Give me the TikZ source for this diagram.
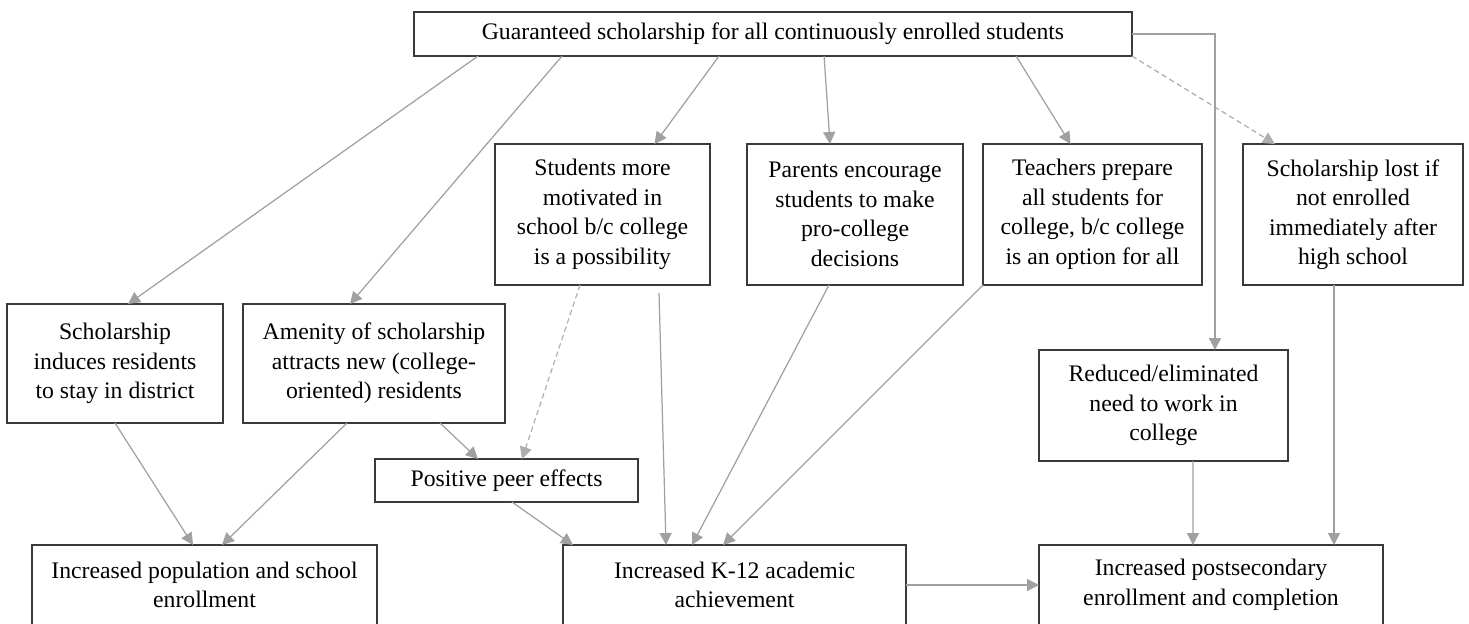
\documentclass[tikz,border=0pt]{standalone}
\usepackage{fontspec}
\setmainfont{Liberation Serif}
\usetikzlibrary{arrows.meta,calc}
\definecolor{boxline}{HTML}{3A3A3A}
\definecolor{linkgray}{HTML}{A0A0A0}

\begin{document}
\begin{tikzpicture}[x=0.02cm, y=-0.02cm, align=center, font=\fontsize{13.5pt}{16.8pt}\selectfont]
    \tikzstyle{every node} = [rectangle, draw=boxline, line width=0.7pt, inner sep=0pt, outer sep=0pt]
    \tikzstyle{link} = [draw=linkgray, line width=0.7pt, -{Triangle[length=0.24cm, width=0.24cm]}]
    \tikzstyle{maybe} = [link, draw=linkgray!85, dash pattern=on 3pt off 2pt]

    \useasboundingbox (0,0) rectangle (1469,623);
    \clip (0,0) rectangle (1469,623);

    \node (a) at (773, 34) [minimum width=14.36cm, minimum height=0.88cm] {Guaranteed scholarship for all continuously enrolled students};

    \node (d) at (602.5, 214.5) [minimum width=4.3cm, minimum height=2.82cm] {Students more \\ motivated in \\ school b/c college \\ is a possibility};
    \node (e) at (855, 214.5) [minimum width=4.32cm, minimum height=2.82cm] {Parents encourage \\ students to make \\ pro-college \\ decisions};
    \node (f) at (1092.5, 214.5) [minimum width=4.38cm, minimum height=2.82cm] {Teachers prepare \\ all students for \\ college, b/c college \\ is an option for all};
    \node (g) at (1353, 214.5) [minimum width=4.4cm, minimum height=2.82cm] {Scholarship lost if \\ not enrolled \\ immediately after \\ high school};

    \node (b) at (115, 363.5) [minimum width=4.32cm, minimum height=2.38cm] {Scholarship \\ induces residents \\ to stay in district};
    \node (c) at (374, 363.5) [minimum width=5.24cm, minimum height=2.38cm] {Amenity of scholarship \\ attracts new (college- \\ oriented) residents};

    \node (i) at (1163.5, 405.5) [minimum width=4.98cm, minimum height=2.22cm] {Reduced/eliminated \\ need to work in \\ college};
    \node (h) at (506.5, 480.5) [minimum width=5.26cm, minimum height=0.86cm] {Positive peer effects};

    \node (j) at (204.5, 585) [minimum width=6.9cm, minimum height=1.6cm] {Increased population and school \\ enrollment};
    \node (k) at (734.5, 585) [minimum width=6.86cm, minimum height=1.6cm] {Increased K-12 academic \\ achievement};
    \node (l) at (1211, 585) [minimum width=6.88cm, minimum height=1.6cm] {Increased postsecondary \\ enrollment and completion};

    \draw [link] ($(a.south west)+(64,0)$) -- ($(b.north)+(13,0)$);
    \draw [link] ($(a.south west)+(148,0)$) -- ($(c.north)+(-24,0)$);
    \draw [link] ($(a.south west)+(305,0)$) -- ($(d.north)+(52,0)$);
    \draw [link] ($(a.south west)+(410,0)$) -- ($(e.north)+(-25,0)$);
    \draw [link] ($(a.south west)+(602,0)$) -- ($(f.north)+(-22,0)$);
    \draw [maybe] (a.south east) -- ($(g.north)+(-78,0)$);
    \draw [link] (a.east) -| ($(i.north)+(51.5,0)$);

    \draw [link] ($(b.south)+(0,0)$) -- ($(j.north)+(-11.5,0)$);
    \draw [link] ($(c.south)+(-27,0)$) -- ($(j.north)+(17.5,0)$);
    \draw [link] ($(c.south)+(66,0)$) -- ($(h.north)+(-28.5,0)$);
    \draw [maybe] ($(d.south)+(-22.5,0)$) -- ($(h.north)+(15.5,0)$);

    \draw [link] ($(d.south)+(56.5,8)$) -- ($(k.north)+(-68.5,0)$);
    \draw [link] ($(h.south)+(5.5,0)$) -- ($(k.north)+(-161.5,0)$);
    \draw [link] ($(e.south)+(-26,0)$) -- ($(k.north)+(-42.5,0)$);
    \draw [link] (f.south west) -- ($(k.north)+(-11.5,0)$);

    \draw [link] ($(i.south)+(29.5,0)$) -- ($(l.north)+(-18,0)$);
    \draw [link] ($(g.south)+(-19,0)$) -- ($(l.north)+(123,0)$);
    \draw [link] (k.east) -- (l.west);
\end{tikzpicture}
\end{document}
